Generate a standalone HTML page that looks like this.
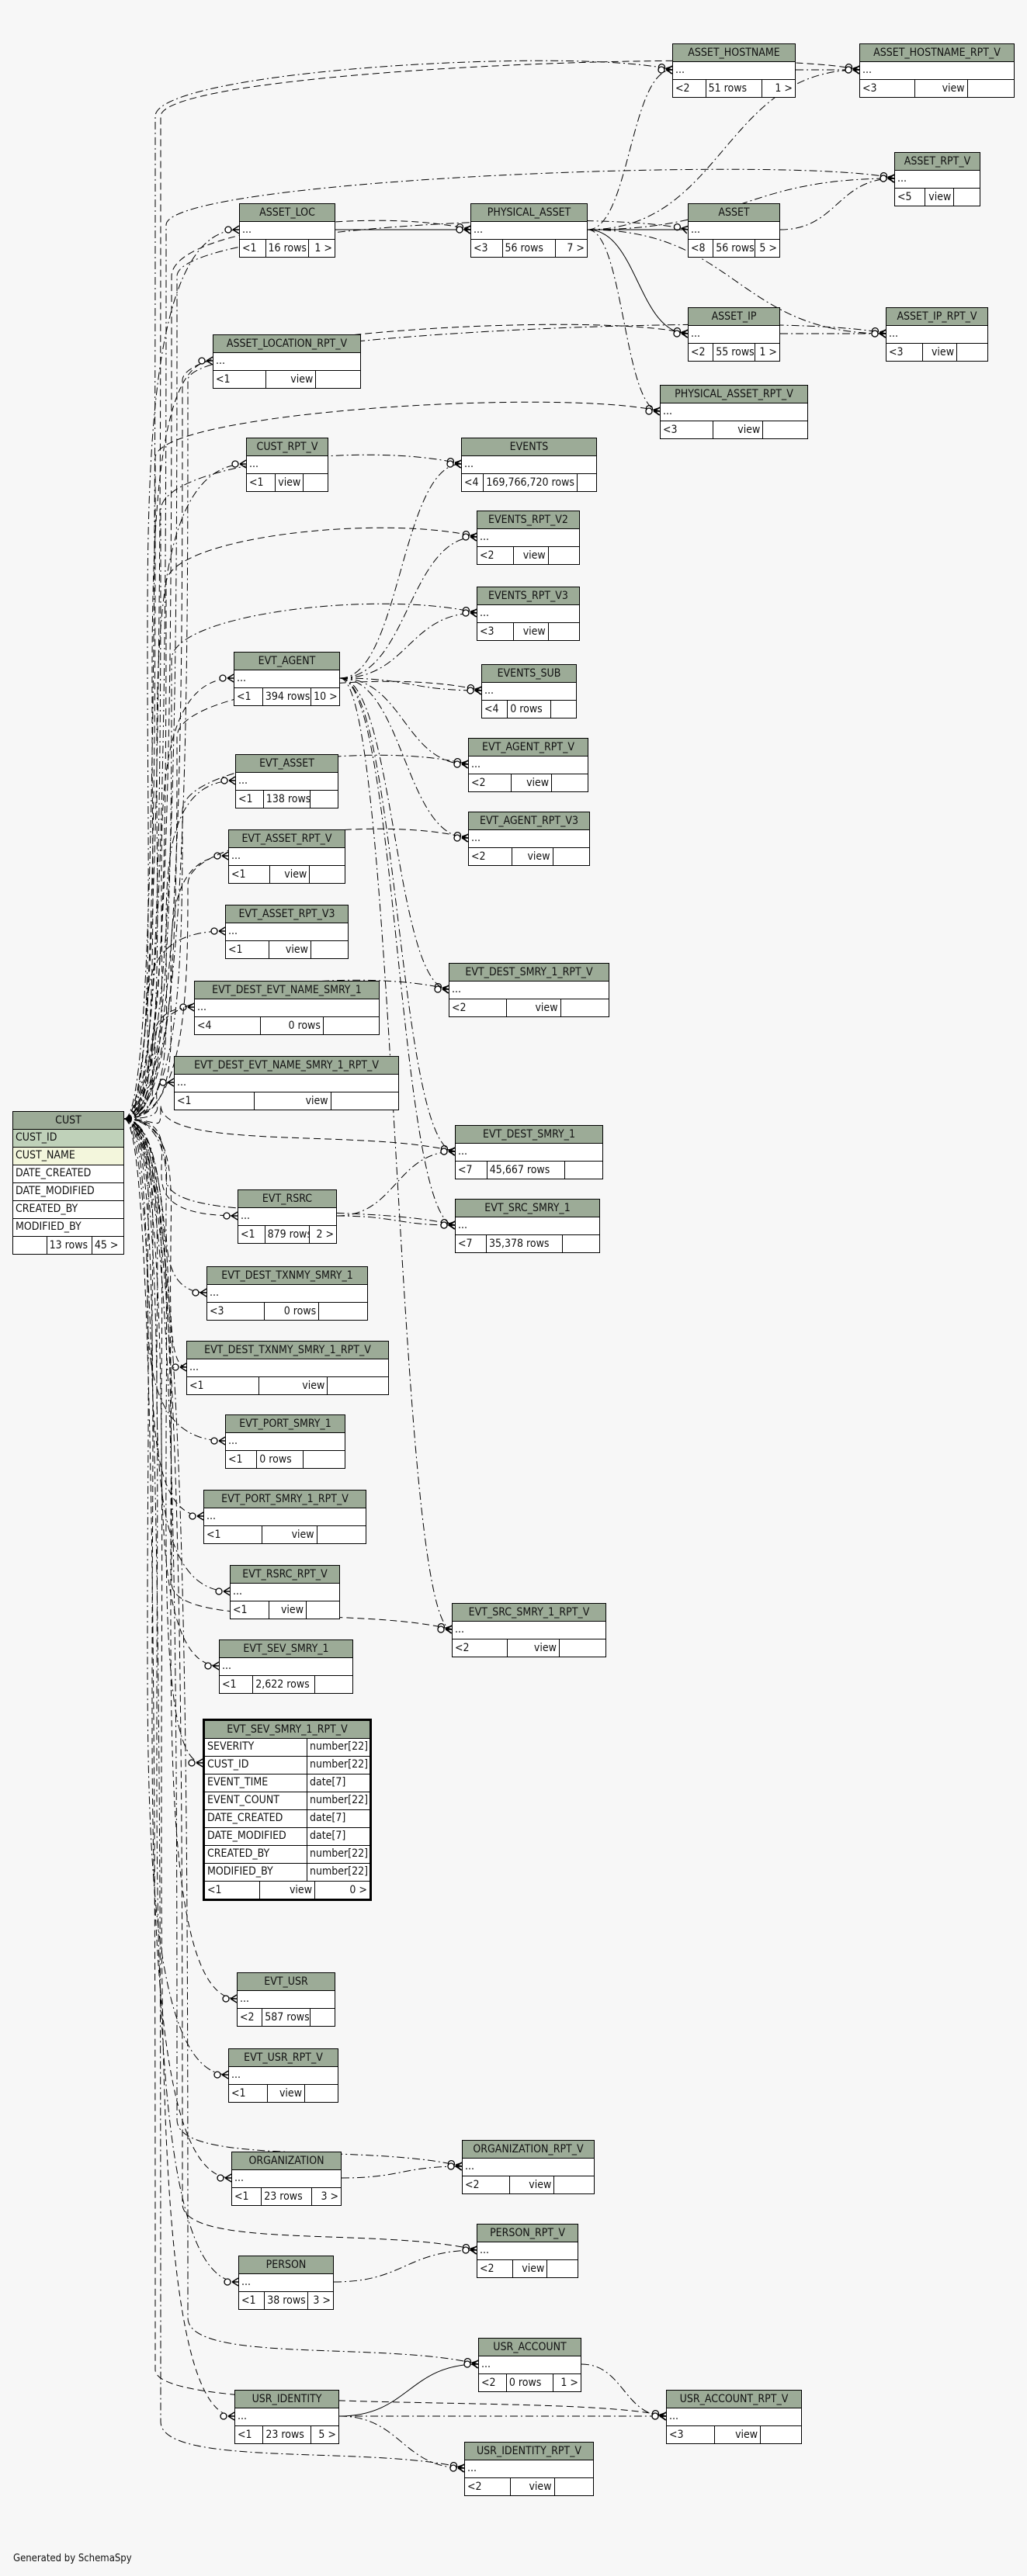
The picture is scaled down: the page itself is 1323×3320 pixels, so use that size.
<!DOCTYPE html>
<html><head><meta charset="utf-8">
<style>
html,body{margin:0;padding:0;background:#f7f7f7;}
body{width:1323px;height:3320px;position:relative;overflow:hidden;font-family:"DejaVu Sans Condensed","Liberation Sans Narrow","Liberation Sans",sans-serif;font-size:14px;color:#111;}
.t{position:absolute;border:1.5px solid #000;background:#fff;box-sizing:border-box;}
.h{height:22px;line-height:22px;background:#9cab97;text-align:center;border-bottom:1px solid #000;white-space:nowrap;overflow:hidden;}
.r{height:22px;line-height:20px;border-bottom:1px solid #000;padding-left:3px;white-space:nowrap;}
.f{display:flex;height:22px;line-height:22px;}
.f div{border-right:1px solid #000;padding:0 3px;white-space:nowrap;overflow:hidden;}
.f div:last-child{border-right:none;}
.v div:nth-child(1){width:36%}.v div:nth-child(2){width:34%;text-align:right}.v div:nth-child(3){width:30%}
.w div:nth-child(1){width:26%}.w div:nth-child(2){width:48%}.w div:nth-child(3){width:26%;text-align:right}
svg{position:absolute;left:0;top:0;}
.gen{position:absolute;left:17px;top:3290px;font-size:13px;}
</style></head><body>
<svg width="1323" height="3320" id="sv">
<defs>
<marker id="m" markerUnits="userSpaceOnUse" markerWidth="24" markerHeight="14" refX="22" refY="7" orient="auto">
<circle cx="8" cy="7" r="4" fill="#fff" stroke="#000" stroke-width="1.3"/>
<path d="M14 7 L22 2 M14 7 L22 7 M14 7 L22 12" stroke="#000" stroke-width="1.5" fill="none"/>
</marker>
</defs>
<g id="eg" fill="none" stroke="#000" stroke-width="1"></g>
</svg>

<div class="t" style="left:866px;top:56px;width:159px"><div class="h">ASSET_HOSTNAME</div><div class="r">...</div><div class="f w"><div>&lt;2</div><div>51 rows</div><div>1 &gt;</div></div></div>
<div class="t" style="left:1107px;top:56px;width:200px"><div class="h">ASSET_HOSTNAME_RPT_V</div><div class="r">...</div><div class="f v"><div>&lt;3</div><div>view</div><div></div></div></div>
<div class="t" style="left:1152px;top:196px;width:111px"><div class="h">ASSET_RPT_V</div><div class="r">...</div><div class="f v"><div>&lt;5</div><div>view</div><div></div></div></div>
<div class="t" style="left:308px;top:262px;width:124px"><div class="h">ASSET_LOC</div><div class="r">...</div><div class="f w"><div>&lt;1</div><div>16 rows</div><div>1 &gt;</div></div></div>
<div class="t" style="left:606px;top:262px;width:151px"><div class="h">PHYSICAL_ASSET</div><div class="r">...</div><div class="f w"><div>&lt;3</div><div>56 rows</div><div>7 &gt;</div></div></div>
<div class="t" style="left:886px;top:262px;width:119px"><div class="h">ASSET</div><div class="r">...</div><div class="f w"><div>&lt;8</div><div>56 rows</div><div>5 &gt;</div></div></div>
<div class="t" style="left:886px;top:396px;width:119px"><div class="h">ASSET_IP</div><div class="r">...</div><div class="f w"><div>&lt;2</div><div>55 rows</div><div>1 &gt;</div></div></div>
<div class="t" style="left:1141px;top:396px;width:132px"><div class="h">ASSET_IP_RPT_V</div><div class="r">...</div><div class="f v"><div>&lt;3</div><div>view</div><div></div></div></div>
<div class="t" style="left:274px;top:431px;width:191px"><div class="h">ASSET_LOCATION_RPT_V</div><div class="r">...</div><div class="f v"><div>&lt;1</div><div>view</div><div></div></div></div>
<div class="t" style="left:850px;top:496px;width:191px"><div class="h">PHYSICAL_ASSET_RPT_V</div><div class="r">...</div><div class="f v"><div>&lt;3</div><div>view</div><div></div></div></div>
<div class="t" style="left:317px;top:564px;width:106px"><div class="h">CUST_RPT_V</div><div class="r">...</div><div class="f v"><div>&lt;1</div><div>view</div><div></div></div></div>
<div class="t" style="left:594px;top:564px;width:175px"><div class="h">EVENTS</div><div class="r">...</div><div class="f"><div style="width:14%">&lt;4</div><div style="width:74%">169,766,720 rows</div><div style="width:12%"></div></div></div>
<div class="t" style="left:614px;top:658px;width:133px"><div class="h">EVENTS_RPT_V2</div><div class="r">...</div><div class="f v"><div>&lt;2</div><div>view</div><div></div></div></div>
<div class="t" style="left:614px;top:756px;width:133px"><div class="h">EVENTS_RPT_V3</div><div class="r">...</div><div class="f v"><div>&lt;3</div><div>view</div><div></div></div></div>
<div class="t" style="left:301px;top:840px;width:137px"><div class="h">EVT_AGENT</div><div class="r">...</div><div class="f w"><div>&lt;1</div><div>394 rows</div><div>10 &gt;</div></div></div>
<div class="t" style="left:620px;top:856px;width:123px"><div class="h">EVENTS_SUB</div><div class="r">...</div><div class="f w"><div>&lt;4</div><div>0 rows</div><div></div></div></div>
<div class="t" style="left:603px;top:951px;width:155px"><div class="h">EVT_AGENT_RPT_V</div><div class="r">...</div><div class="f v"><div>&lt;2</div><div>view</div><div></div></div></div>
<div class="t" style="left:303px;top:972px;width:133px"><div class="h">EVT_ASSET</div><div class="r">...</div><div class="f w"><div>&lt;1</div><div>138 rows</div><div></div></div></div>
<div class="t" style="left:603px;top:1046px;width:157px"><div class="h">EVT_AGENT_RPT_V3</div><div class="r">...</div><div class="f v"><div>&lt;2</div><div>view</div><div></div></div></div>
<div class="t" style="left:294px;top:1069px;width:151px"><div class="h">EVT_ASSET_RPT_V</div><div class="r">...</div><div class="f v"><div>&lt;1</div><div>view</div><div></div></div></div>
<div class="t" style="left:290px;top:1166px;width:159px"><div class="h">EVT_ASSET_RPT_V3</div><div class="r">...</div><div class="f v"><div>&lt;1</div><div>view</div><div></div></div></div>
<div class="t" style="left:578px;top:1241px;width:207px"><div class="h">EVT_DEST_SMRY_1_RPT_V</div><div class="r">...</div><div class="f v"><div>&lt;2</div><div>view</div><div></div></div></div>
<div class="t" style="left:250px;top:1264px;width:239px"><div class="h">EVT_DEST_EVT_NAME_SMRY_1</div><div class="r">...</div><div class="f v"><div>&lt;4</div><div>0 rows</div><div></div></div></div>
<div class="t" style="left:224px;top:1361px;width:290px"><div class="h">EVT_DEST_EVT_NAME_SMRY_1_RPT_V</div><div class="r">...</div><div class="f v"><div>&lt;1</div><div>view</div><div></div></div></div>

<div class="t" style="left:16px;top:1432px;width:144px">
<div class="h">CUST</div>
<div class="r" style="background:#bfd1b9">CUST_ID</div>
<div class="r" style="background:#f3f6dc">CUST_NAME</div>
<div class="r">DATE_CREATED</div>
<div class="r">DATE_MODIFIED</div>
<div class="r">CREATED_BY</div>
<div class="r">MODIFIED_BY</div>
<div class="f"><div style="width:30%"></div><div style="width:42%">13 rows</div><div style="width:28%">45 &gt;</div></div>
</div>

<div class="t" style="left:586px;top:1450px;width:191px"><div class="h">EVT_DEST_SMRY_1</div><div class="r">...</div><div class="f"><div style="width:20%">&lt;7</div><div style="width:55%">45,667 rows</div><div style="width:25%"></div></div></div>
<div class="t" style="left:306px;top:1533px;width:128px"><div class="h">EVT_RSRC</div><div class="r">...</div><div class="f w"><div>&lt;1</div><div>879 rows</div><div>2 &gt;</div></div></div>
<div class="t" style="left:586px;top:1545px;width:187px"><div class="h">EVT_SRC_SMRY_1</div><div class="r">...</div><div class="f"><div style="width:20%">&lt;7</div><div style="width:55%">35,378 rows</div><div style="width:25%"></div></div></div>
<div class="t" style="left:266px;top:1632px;width:208px"><div class="h">EVT_DEST_TXNMY_SMRY_1</div><div class="r">...</div><div class="f v"><div>&lt;3</div><div>0 rows</div><div></div></div></div>
<div class="t" style="left:240px;top:1728px;width:261px"><div class="h">EVT_DEST_TXNMY_SMRY_1_RPT_V</div><div class="r">...</div><div class="f v"><div>&lt;1</div><div>view</div><div></div></div></div>
<div class="t" style="left:290px;top:1823px;width:155px"><div class="h">EVT_PORT_SMRY_1</div><div class="r">...</div><div class="f"><div style="width:25%">&lt;1</div><div style="width:40%">0 rows</div><div style="width:35%"></div></div></div>
<div class="t" style="left:262px;top:1920px;width:210px"><div class="h">EVT_PORT_SMRY_1_RPT_V</div><div class="r">...</div><div class="f v"><div>&lt;1</div><div>view</div><div></div></div></div>
<div class="t" style="left:296px;top:2017px;width:142px"><div class="h">EVT_RSRC_RPT_V</div><div class="r">...</div><div class="f v"><div>&lt;1</div><div>view</div><div></div></div></div>
<div class="t" style="left:582px;top:2066px;width:199px"><div class="h">EVT_SRC_SMRY_1_RPT_V</div><div class="r">...</div><div class="f v"><div>&lt;2</div><div>view</div><div></div></div></div>
<div class="t" style="left:282px;top:2113px;width:173px"><div class="h">EVT_SEV_SMRY_1</div><div class="r">...</div><div class="f"><div style="width:24%">&lt;1</div><div style="width:48%">2,622 rows</div><div style="width:28%"></div></div></div>

<div class="t" style="left:261px;top:2215px;width:218px;border:3.5px solid #000">
<div class="h">EVT_SEV_SMRY_1_RPT_V</div>
<div class="r" style="display:flex;padding:0"><span style="width:128px;padding-left:3px;border-right:1px solid #000">SEVERITY</span><span style="padding-left:3px">number[22]</span></div>
<div class="r" style="display:flex;padding:0"><span style="width:128px;padding-left:3px;border-right:1px solid #000">CUST_ID</span><span style="padding-left:3px">number[22]</span></div>
<div class="r" style="display:flex;padding:0"><span style="width:128px;padding-left:3px;border-right:1px solid #000">EVENT_TIME</span><span style="padding-left:3px">date[7]</span></div>
<div class="r" style="display:flex;padding:0"><span style="width:128px;padding-left:3px;border-right:1px solid #000">EVENT_COUNT</span><span style="padding-left:3px">number[22]</span></div>
<div class="r" style="display:flex;padding:0"><span style="width:128px;padding-left:3px;border-right:1px solid #000">DATE_CREATED</span><span style="padding-left:3px">date[7]</span></div>
<div class="r" style="display:flex;padding:0"><span style="width:128px;padding-left:3px;border-right:1px solid #000">DATE_MODIFIED</span><span style="padding-left:3px">date[7]</span></div>
<div class="r" style="display:flex;padding:0"><span style="width:128px;padding-left:3px;border-right:1px solid #000">CREATED_BY</span><span style="padding-left:3px">number[22]</span></div>
<div class="r" style="display:flex;padding:0"><span style="width:128px;padding-left:3px;border-right:1px solid #000">MODIFIED_BY</span><span style="padding-left:3px">number[22]</span></div>
<div class="f"><div style="width:64px">&lt;1</div><div style="width:64px;text-align:right">view</div><div style="flex:1;text-align:right">0 &gt;</div></div>
</div>

<div class="t" style="left:305px;top:2542px;width:127px"><div class="h">EVT_USR</div><div class="r">...</div><div class="f"><div style="width:24%">&lt;2</div><div style="width:52%">587 rows</div><div style="width:24%"></div></div></div>
<div class="t" style="left:294px;top:2640px;width:142px"><div class="h">EVT_USR_RPT_V</div><div class="r">...</div><div class="f v"><div>&lt;1</div><div>view</div><div></div></div></div>
<div class="t" style="left:298px;top:2773px;width:142px"><div class="h">ORGANIZATION</div><div class="r">...</div><div class="f w"><div>&lt;1</div><div>23 rows</div><div>3 &gt;</div></div></div>
<div class="t" style="left:595px;top:2758px;width:171px"><div class="h">ORGANIZATION_RPT_V</div><div class="r">...</div><div class="f v"><div>&lt;2</div><div>view</div><div></div></div></div>
<div class="t" style="left:614px;top:2866px;width:131px"><div class="h">PERSON_RPT_V</div><div class="r">...</div><div class="f v"><div>&lt;2</div><div>view</div><div></div></div></div>
<div class="t" style="left:307px;top:2907px;width:123px"><div class="h">PERSON</div><div class="r">...</div><div class="f w"><div>&lt;1</div><div>38 rows</div><div>3 &gt;</div></div></div>
<div class="t" style="left:616px;top:3013px;width:133px"><div class="h">USR_ACCOUNT</div><div class="r">...</div><div class="f w"><div>&lt;2</div><div>0 rows</div><div>1 &gt;</div></div></div>
<div class="t" style="left:302px;top:3080px;width:135px"><div class="h">USR_IDENTITY</div><div class="r">...</div><div class="f w"><div>&lt;1</div><div>23 rows</div><div>5 &gt;</div></div></div>
<div class="t" style="left:858px;top:3080px;width:175px"><div class="h">USR_ACCOUNT_RPT_V</div><div class="r">...</div><div class="f v"><div>&lt;3</div><div>view</div><div></div></div></div>
<div class="t" style="left:598px;top:3147px;width:167px"><div class="h">USR_IDENTITY_RPT_V</div><div class="r">...</div><div class="f v"><div>&lt;2</div><div>view</div><div></div></div></div>

<div class="gen">Generated by SchemaSpy</div>

<script>
(function(){
var g=document.getElementById('eg');
function add(d,dash,solid,mk){var p=document.createElementNS('http://www.w3.org/2000/svg','path');p.setAttribute('d',d);if(!solid)p.setAttribute('stroke-dasharray',dash||'8,5');if(mk!==false)p.setAttribute('marker-end','url(#m)');g.appendChild(p);}
var T={AH:[866,90],AHR:[1107,90],AR:[1152,230],AL:[308,296],PA:[606,296],A:[886,296],AI:[886,430],AIR:[1141,430],ALR:[274,465],PAR:[850,530],CR:[317,598],EV:[594,598],E2:[614,692],E3:[614,790],EA:[301,874],ES:[620,890],EAR:[603,985],EAS:[303,1006],EAR3:[603,1080],EASR:[294,1103],EASR3:[290,1200],DSR:[578,1275],DEN:[250,1298],DENR:[224,1395],DS:[586,1484],RS:[306,1567],SS:[586,1579],DT:[266,1666],DTR:[240,1762],PS:[290,1857],PSR:[262,1954],RSR:[296,2051],SSR:[582,2100],SV:[282,2147],SVR:[261,2272],EU:[305,2576],EUR:[294,2674],OR:[298,2807],ORR:[595,2792],PR:[614,2900],P:[307,2941],UA:[616,3047],UI:[302,3114],UAR:[858,3114],UIR:[598,3181]};
var sx=160,sy=1442;
var near=['AL','ALR','CR','EA','EAS','EASR','EASR3','DEN','DENR','RS','DT','DTR','PS','PSR','RSR','SV','SVR','EU','EUR','OR','P','UI'];
near.forEach(function(k,i){var t=T[k];var bx=190+(i%6)*6;
add('M'+sx+','+sy+' C'+(bx+10)+','+sy+' '+bx+','+(sy+(t[1]-sy)*0.3)+' '+bx+','+((sy+t[1])/2)+' S'+(bx-5)+','+t[1]+' '+t[0]+','+t[1],(i%2?'8,5':'10,4,2,4'));});
var far=['AH','AHR','AR','PA','A','AI','AIR','PAR','EV','E2','E3','ES','EAR','EAR3','DSR','DS','SS','SSR','ORR','PR','UA','UAR','UIR'];
far.forEach(function(k,i){var t=T[k];var bx=200+(i%7)*7;var mx=bx+40+(i%5)*30;
add('M'+sx+','+sy+' C'+(bx)+','+sy+' '+bx+','+(sy+(t[1]-sy)*0.5)+' '+bx+','+(t[1]+(t[1]<sy?60:-60))+' C'+bx+','+t[1]+' '+(t[0]-120)+','+(t[1]-30)+' '+t[0]+','+t[1],(i%2?'9,5':'10,4,2,4'));});
function e(s,t,dash,solid){var d=Math.max(40,Math.abs(t[0]-s[0])/2);add('M'+s[0]+','+s[1]+' C'+(s[0]+d)+','+s[1]+' '+(t[0]-d)+','+t[1]+' '+t[0]+','+t[1],dash,solid);}
var PA=[757,296];
e([432,296],T.PA,null,true);
add('M886,296 L757,296',null,true,false);
add('M757,296 C790,296 800,296 810,296',null,true,false);
e(PA,T.AI,null,true);
e(PA,T.AH,'10,4,2,4');e(PA,T.AHR,'10,4,2,4');e(PA,T.AR,'10,4,2,4');e(PA,T.AIR,'10,4,2,4');e(PA,T.PAR,'10,4,2,4');
e([1005,296],T.AR,'10,4,2,4');e([1005,430],T.AIR,'10,4,2,4');e([1025,90],T.AHR,'10,4,2,4');
var EA=[438,874];
['EV','E2','E3','ES','EAR','EAR3','DS','SS','DSR','SSR'].forEach(function(k){e(EA,T[k],'10,4,2,4');});
e([434,1567],T.DS,'10,4,2,4');e([434,1567],T.SS,'10,4,2,4');
e([440,2807],T.ORR,'10,4,2,4');e([430,2941],T.PR,'10,4,2,4');
e([437,3114],T.UA,null,true);e([437,3114],T.UAR,'10,4,2,4');e([437,3114],T.UIR,'10,4,2,4');e([749,3047],T.UAR,'10,4,2,4');
})();
</script>
</body></html>
